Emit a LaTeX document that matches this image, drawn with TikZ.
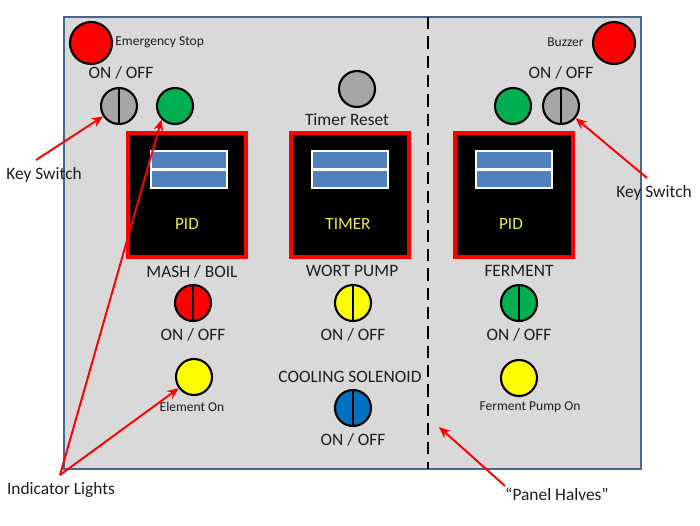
\documentclass[tikz,border=0pt]{standalone}
\usepackage{fontspec}
\setmainfont{Carlito}
\usetikzlibrary{arrows.meta}
\definecolor{panelfill}{RGB}{217,217,217}
\definecolor{panelline}{RGB}{74,102,138}
\definecolor{swred}{RGB}{255,0,0}
\definecolor{swgreen}{RGB}{0,176,80}
\definecolor{swyellow}{RGB}{255,255,0}
\definecolor{swblue}{RGB}{0,112,192}
\definecolor{swgray}{RGB}{166,166,166}
\definecolor{dispblue}{RGB}{79,129,189}
\definecolor{dispyellow}{RGB}{235,235,70}
\definecolor{txt}{RGB}{30,30,30}
\tikzset{
  lab/.style={text=txt,font=\fontsize{9.9}{11}\selectfont,inner sep=0pt},
  smalllab/.style={text=txt,font=\fontsize{7.7}{9}\selectfont,inner sep=0pt},
  light/.style={circle,draw=black,line width=1.2pt,minimum size=0.72cm,inner sep=0pt},
  bigbtn/.style={circle,draw=black,line width=1.2pt,minimum size=0.84cm,inner sep=0pt,fill=swred},
  display/.style={rectangle,draw=swred,line width=1.8pt,fill=black,minimum width=2.36cm,minimum height=2.48cm,inner sep=0pt},
  dispbar/.style={rectangle,draw=white,line width=1.1pt,fill=dispblue,minimum width=1.52cm,minimum height=0.37cm,inner sep=0pt},
  disptext/.style={text=dispyellow,font=\fontsize{9.8}{11}\selectfont,inner sep=0pt},
  redarrow/.style={draw=swred,line width=1.1pt,-{Stealth[length=6.5pt,width=5.5pt]}},
}
\newcommand{\splitline}[1]{\draw[black,line width=0.7pt] (#1.north) -- (#1.south);}
\begin{document}
\begin{tikzpicture}[x=0.02cm,y=-0.02cm]
\useasboundingbox (0,0) rectangle (700,525);
% panel
\draw[panelline,line width=1.2pt,fill=panelfill] (64,17) rectangle (641,469);
\coordinate (dtop) at (428,17);
\coordinate (dbot) at (428,469);
\draw[black,line width=1.3pt,dash pattern=on 7pt off 4pt] (dtop) -- (dbot);

% top left
\node[bigbtn] (estop) at (91,43) {};
\node[smalllab,anchor=west] (estoplab) at (115,42) {Emergency Stop};
\node[lab] (onoffL) at (121,73) {ON / OFF};
\node[light,fill=swgray] (keyL) at (119,106) {};
\splitline{keyL}
\node[light,fill=swgreen] (greenL) at (175,106) {};

% top right
\node[bigbtn] (buzz) at (614,43) {};
\node[smalllab,anchor=east] (buzzlab) at (584,42) {Buzzer};
\node[lab] (onoffR) at (561,73) {ON / OFF};
\node[light,fill=swgreen] (greenR) at (513,106) {};
\node[light,fill=swgray] (keyR) at (561,106) {};
\splitline{keyR}

% timer reset
\node[light,fill=swgray] (treset) at (357,89) {};
\node[lab] (tresetlab) at (347,120) {Timer Reset};

% displays
\node[display] (disp1) at (187,195) {};
\node[dispbar] (bar1a) at (189,160) {};
\node[dispbar] (bar1b) at (189,179) {};
\node[disptext] (pid1) at (187,224) {PID};

\node[display] (disp2) at (350,195) {};
\node[dispbar] (bar2a) at (350,160) {};
\node[dispbar] (bar2b) at (350,179) {};
\node[disptext] (timer) at (348,224) {TIMER};

\node[display] (disp3) at (514,195) {};
\node[dispbar] (bar3a) at (514,160) {};
\node[dispbar] (bar3b) at (514,179) {};
\node[disptext] (pid2) at (511,224) {PID};

% left column
\node[lab] (mash) at (192,272) {MASH / BOIL};
\node[light,fill=swred] (swmash) at (193,303) {};
\splitline{swmash}
\node[lab] (onoff1) at (193,335) {ON / OFF};
\node[light,fill=swyellow] (elem) at (194,377) {};
\node[smalllab] (elemlab) at (192,407) {Element On};

% middle column
\node[lab] (wort) at (352,271) {WORT PUMP};
\node[light,fill=swyellow] (swwort) at (353,303) {};
\splitline{swwort}
\node[lab] (onoff2) at (353,335) {ON / OFF};
\node[lab] (cool) at (350,377) {COOLING SOLENOID};
\node[light,fill=swblue] (swcool) at (353,408) {};
\splitline{swcool}
\node[lab] (onoff3) at (353,440) {ON / OFF};

% right column
\node[lab] (ferm) at (519,271) {FERMENT};
\node[light,fill=swgreen] (swferm) at (519,303) {};
\splitline{swferm}
\node[lab] (onoff4) at (519,335) {ON / OFF};
\node[light,fill=swyellow] (fpump) at (519,378) {};
\node[smalllab] (fpumplab) at (530,407) {Ferment Pump On};

% callouts
\node[lab] (ksL) at (44,175) {Key Switch};
\coordinate (ksLtail) at (36,160);
\draw[redarrow] (ksLtail) -- (keyL);

\node[lab] (ksR) at (654,193) {Key Switch};
\coordinate (ksRtail) at (647,178);
\draw[redarrow] (ksRtail) -- (keyR);

\node[lab] (ind) at (61,490) {Indicator Lights};
\coordinate (apex) at (60,475);
\draw[redarrow] (apex) -- (greenL.south west);
\draw[redarrow] (apex) -- (elem);

\node[lab] (halves) at (557,494) {“Panel Halves”};
\coordinate (htail) at (505,486);
\coordinate (hhead) at (439,427);
\draw[redarrow] (htail) -- (hhead);
\end{tikzpicture}
\end{document}
